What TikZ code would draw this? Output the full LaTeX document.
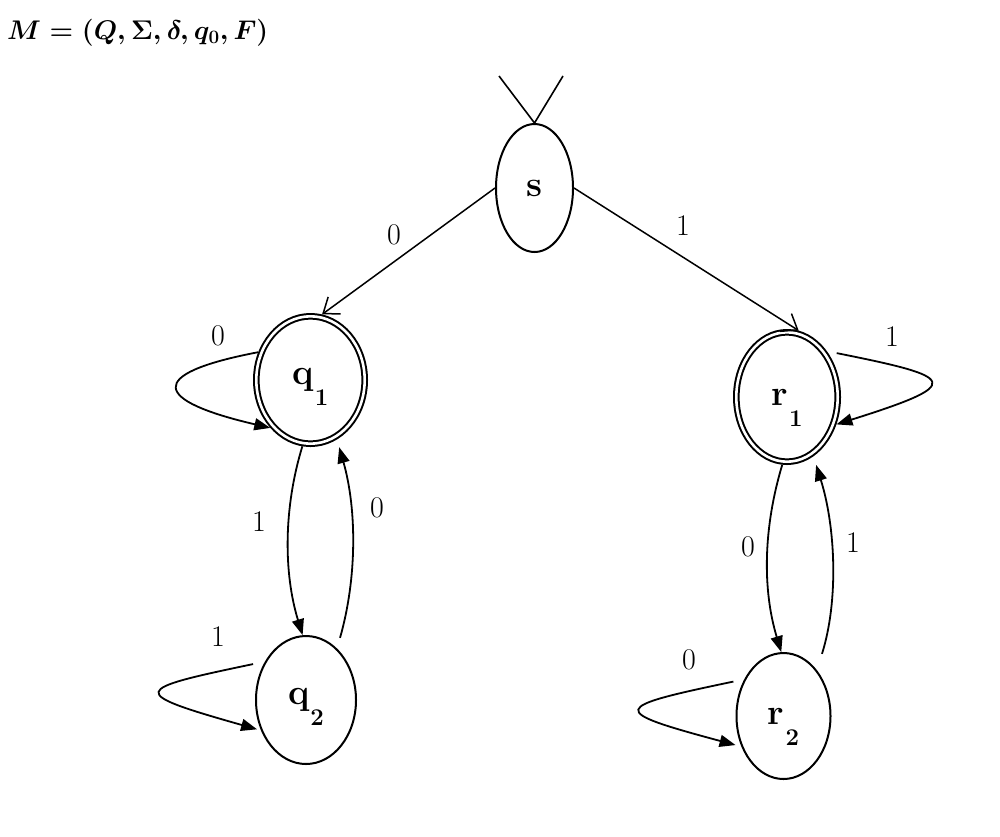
\RequirePackage{fix-cm}
\documentclass[tikz,border=0pt]{standalone}
\usepackage{fontspec}
\usetikzlibrary{arrows.meta,shapes.geometric}
\begin{document}
\begin{tikzpicture}[x=1pt,y=-1pt,
  stateA/.style={ellipse, draw, line width=2pt, inner sep=0pt, outer sep=1pt,
    font=\fontsize{36}{36}\selectfont\bfseries},
  acceptA/.style={ellipse, draw, line width=2pt, double, double distance=2.6pt,
    inner sep=0pt, outer sep=3.3pt, font=\fontsize{36}{36}\selectfont\bfseries},
  edgeA/.style={line width=1.8pt, -{Triangle[length=16pt,width=12pt]}},
  openA/.style={line width=1.5pt, -{Straight Barb[length=14pt,width=21pt,line width=1.5pt]}},
  lbl/.style={font=\fontsize{30}{30}\selectfont, inner sep=0pt},
]
\useasboundingbox (0,0) rectangle (1000,836);
\newcommand{\sub}[1]{\kern1pt\raisebox{-21pt}[0pt][0pt]{\fontsize{24}{24}\selectfont #1}}

% title
\node[anchor=base west, inner sep=0pt, font=\fontsize{27}{32}\selectfont\boldmath] (title) at (7,39)
  {$M=(Q,\Sigma,\delta,q_0,F)$};

% states
\node[stateA, minimum width=77pt, minimum height=128pt] (s) at (534.5,188) {s};
\node[acceptA, minimum width=108.4pt, minimum height=127.4pt] (q1) at (310.5,380) {q\sub{1}};
\node[acceptA, minimum width=101.4pt, minimum height=129.4pt] (r1) at (787,397) {r\sub{1}};
\node[stateA, minimum width=100pt, minimum height=128pt] (q2) at (306,700) {q\sub{2}};
\node[stateA, minimum width=94pt, minimum height=126pt] (r2) at (783.5,716) {r\sub{2}};

% start marker
\coordinate (st1) at (499,76);
\coordinate (st2) at (563,76);
\draw[line width=1.6pt] (st1) -- (s.north) -- (st2);

% transitions from s
\draw[openA] (s.west) -- (q1.80);
\draw[openA] (s.east) -- (r1.80);

% q1 self loop
\draw[edgeA] (q1.152) .. controls +(-115,22) and +(-116,-27) .. (q1.230);
% q1 <-> q2
\draw[edgeA] (q1.263) .. controls +(-19,62) and +(-19,-62) .. (q2.93);
\draw[edgeA, shorten <=11pt, shorten >=8pt] (q2.59) .. controls +(20,-70) and +(20,70) .. (q1.294);
% q2 self loop
\draw[edgeA, shorten <=12pt, shorten >=4pt] (q2.137) .. controls +(-134,28) and +(-134,-38) .. (q2.214);

% r1 self loop
\draw[edgeA, shorten <=10pt] (r1.49) .. controls +(130,26) and +(130,-41) .. (r1.331);
% r1 <-> r2
\draw[edgeA] (r1.266) .. controls +(-19,63) and +(-19,-63) .. (r2.92);
\draw[edgeA, shorten <=17pt, shorten >=9pt] (r2.54) .. controls +(22,-70) and +(22,70) .. (r1.294);
% r2 self loop
\draw[edgeA, shorten <=11pt, shorten >=6pt] (r2.137) .. controls +(-134,28) and +(-134,-36) .. (r2.216);

% labels
\node[lbl] (l1) at (394,235) {0};
\node[lbl] (l2) at (683,226) {1};
\node[lbl] (l3) at (218,336) {0};
\node[lbl] (l4) at (259,522) {1};
\node[lbl] (l5) at (377,508) {0};
\node[lbl] (l6) at (218,637) {1};
\node[lbl] (l7) at (892,337) {1};
\node[lbl] (l8) at (748,547) {0};
\node[lbl] (l9) at (853,543) {1};
\node[lbl] (l10) at (689,660) {0};
\end{tikzpicture}
\end{document}
